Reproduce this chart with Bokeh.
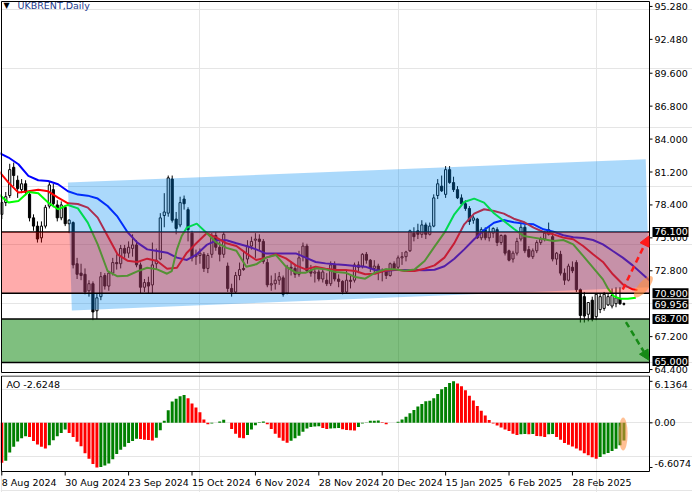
from bokeh.plotting import figure
from bokeh.models import Range1d, ColumnDataSource, Arrow, NormalHead
from bokeh.layouts import column
from bokeh.embed import file_html
from bokeh.resources import INLINE
from bokeh.core.properties import value

FONT = value("DejaVu Sans")
FS = value("9.5px")

# ---------------- data ----------------
date_ticks = [0, 16, 32, 48, 64, 80, 96, 112, 128, 144]
date_labels = ["8 Aug 2024", "30 Aug 2024", "23 Sep 2024", "15 Oct 2024", "6 Nov 2024",
               "28 Nov 2024", "20 Dec 2024", "15 Jan 2025", "6 Feb 2025", "28 Feb 2025"]

price_ticks = [95.28, 92.48, 89.6, 86.8, 84.0, 81.2, 78.4, 75.6, 72.8, 67.2, 64.4]
price_tick_labels = ["95.280", "92.480", "89.600", "86.800", "84.000", "81.200", "78.400",
                     "75.600", "72.800", "67.200", "64.400"]

opens = [77.6, 78.6, 79.2, 81.6, 80.5, 79.7, 80.2, 79.3, 77.3, 76.6, 75.6, 76.6, 78.3, 79.7, 78.4, 77.3,
         78.2, 76.8, 76.9, 73.4, 72.6, 72.5, 71.1, 71.7, 69.4, 70.6, 72.4, 71.5, 72.6, 73.5, 73.4, 74.7,
         74.3, 74.7, 75.0, 73.3, 71.4, 71.8, 71.6, 73.4, 73.8, 77.5, 77.7, 80.6, 77.2, 76.7, 78.9, 78.0,
         76.0, 74.0, 74.1, 74.2, 73.0, 74.2, 75.8, 74.8, 74.2, 73.2, 71.3, 71.0, 72.4, 73.0, 73.8, 74.9,
         75.4, 75.5, 75.3, 73.5, 71.6, 71.7, 72.0, 72.2, 70.9, 73.1, 73.0, 72.5, 74.0, 74.9, 72.8, 72.6,
         72.7, 72.1, 72.0, 71.7, 73.3, 72.1, 71.9, 71.0, 72.0, 72.0, 73.3, 73.2, 74.2, 73.7, 73.0, 73.2,
         72.7, 72.8, 72.4, 73.4, 73.1, 73.9, 74.0, 74.5, 76.0, 76.2, 75.9, 76.7, 75.9, 76.6, 79.2, 80.0,
         79.3, 81.4, 80.3, 79.7, 79.0, 78.5, 78.1, 77.1, 77.2, 75.6, 76.3, 75.6, 76.0, 76.3, 75.2, 75.8,
         74.5, 73.8, 74.3, 75.5, 76.5, 74.6, 74.0, 74.5, 75.2, 75.5, 75.9, 75.7, 73.8, 74.2, 72.6, 72.0,
         73.1, 73.5, 71.2, 70.6, 69.1, 70.3, 68.9, 69.5, 69.6, 69.9, 69.8, 70.0, 70.4, 70.0]
highs = [79.0, 79.5, 81.9, 82.0, 80.9, 80.6, 80.5, 79.5, 77.6, 77.0, 77.0, 78.4, 80.4, 80.2, 78.8, 78.7,
         78.4, 77.2, 77.0, 73.9, 73.4, 73.0, 72.0, 71.9, 70.9, 72.7, 72.6, 72.8, 73.9, 74.2, 75.0, 75.0,
         75.3, 75.9, 75.4, 73.5, 72.1, 72.3, 75.2, 74.7, 77.7, 79.4, 80.9, 80.9, 77.8, 79.1, 79.2, 78.2,
         76.2, 74.6, 74.7, 74.4, 74.3, 76.0, 76.1, 75.3, 76.1, 73.5, 71.7, 72.7, 73.5, 74.4, 75.4, 75.7,
         76.0, 75.9, 75.5, 73.8, 72.4, 72.6, 72.7, 72.4, 73.3, 73.6, 73.3, 74.5, 75.2, 75.1, 73.3, 73.1,
         72.9, 73.0, 72.6, 73.6, 73.6, 72.5, 72.0, 72.9, 72.4, 73.5, 73.6, 74.3, 74.4, 73.8, 73.7, 73.4,
         73.0, 73.0, 73.5, 73.6, 74.1, 74.4, 74.5, 76.3, 76.5, 76.8, 77.1, 76.9, 76.9, 79.3, 80.6, 80.9,
         81.7, 81.7, 80.8, 80.0, 79.3, 78.8, 78.3, 77.5, 77.3, 76.5, 76.5, 76.6, 76.5, 76.5, 75.9, 75.9,
         74.6, 74.5, 75.6, 76.9, 76.7, 74.9, 74.7, 75.4, 75.7, 76.2, 76.9, 76.0, 74.4, 74.5, 73.0, 73.4,
         73.6, 73.7, 71.3, 71.0, 70.1, 70.6, 70.9, 70.9, 71.0, 70.9, 71.3, 71.4, 71.4, 70.1]
lows = [77.2, 78.3, 79.0, 80.0, 79.0, 79.4, 79.2, 77.0, 76.2, 75.2, 75.2, 76.4, 78.1, 78.2, 77.0, 77.1,
        76.6, 76.0, 73.0, 72.1, 72.0, 70.8, 70.6, 68.6, 68.7, 70.3, 71.2, 71.1, 72.4, 72.9, 73.0, 73.9,
        73.9, 74.0, 73.1, 70.9, 71.0, 70.9, 70.9, 72.9, 73.7, 76.5, 77.4, 76.9, 75.9, 76.5, 78.0, 75.3,
        73.6, 73.3, 73.4, 72.7, 72.6, 73.9, 74.5, 73.6, 73.9, 71.0, 70.6, 70.9, 72.0, 72.8, 73.4, 74.6,
        73.9, 74.5, 73.4, 71.4, 71.1, 71.2, 71.6, 70.6, 70.8, 72.4, 72.2, 72.3, 73.6, 72.6, 72.3, 71.8,
        71.9, 71.8, 71.5, 71.5, 71.9, 71.4, 70.8, 70.9, 71.3, 71.8, 72.6, 73.0, 73.4, 72.7, 72.6, 72.0,
        71.9, 72.1, 72.3, 72.8, 72.9, 73.3, 73.6, 74.4, 75.3, 75.5, 75.6, 75.5, 75.8, 76.5, 78.9, 79.5,
        79.0, 80.2, 79.5, 78.9, 78.3, 77.9, 76.7, 76.8, 75.5, 75.4, 75.4, 75.3, 75.6, 74.9, 75.0, 74.1,
        73.6, 73.5, 74.1, 75.3, 74.3, 73.9, 73.8, 74.3, 75.0, 75.3, 75.8, 73.6, 73.3, 72.4, 71.6, 71.9,
        72.6, 71.0, 68.4, 68.4, 68.5, 68.5, 68.6, 69.2, 69.4, 69.8, 69.6, 69.7, 69.9, 69.85]
closes = [78.6, 79.1, 81.4, 80.9, 79.8, 80.2, 79.5, 77.3, 76.6, 75.5, 76.6, 78.2, 80.1, 78.5, 77.3, 78.4,
          76.8, 77.1, 73.3, 72.5, 72.4, 71.0, 71.7, 69.3, 70.5, 72.3, 71.5, 72.6, 73.5, 73.4, 74.7, 74.3,
          74.8, 75.0, 73.3, 71.4, 71.8, 71.5, 73.3, 73.7, 77.3, 77.8, 80.7, 77.1, 76.4, 78.6, 78.5, 76.3,
          73.9, 74.1, 74.3, 73.0, 74.1, 75.8, 74.8, 74.2, 75.9, 71.3, 71.0, 72.4, 72.9, 72.9, 74.9, 75.3,
          75.5, 75.3, 73.6, 71.6, 71.7, 72.0, 72.3, 70.8, 73.1, 73.0, 72.5, 73.9, 74.9, 72.8, 72.6, 72.7,
          72.1, 72.7, 71.7, 73.3, 72.1, 71.9, 71.0, 72.0, 71.9, 73.3, 73.1, 74.2, 73.7, 73.0, 73.2, 72.7,
          72.8, 72.4, 73.4, 73.0, 73.9, 74.0, 74.4, 76.2, 75.7, 75.9, 76.7, 75.9, 76.6, 79.0, 80.2, 79.6,
          81.4, 80.3, 79.7, 79.0, 78.5, 78.1, 77.0, 77.3, 75.6, 76.3, 75.6, 76.1, 76.4, 75.2, 75.8, 74.3,
          73.7, 74.3, 75.3, 76.5, 74.5, 74.0, 74.5, 75.2, 75.5, 76.0, 76.3, 73.8, 74.3, 72.6, 72.0, 73.2,
          72.8, 71.2, 69.0, 68.95, 70.1, 68.7, 70.8, 70.6, 70.8, 70.6, 70.7, 70.5, 70.0, 69.956]

# Alligator
jaw_idx = [-0.8, 1.7, 4.2, 6.7, 9.2, 11.7, 14.2, 16.7, 19.2, 21.7, 24.2, 26.7, 29.2, 31.7, 34.2, 36.7,
           39.2, 41.7, 44.2, 46.7, 49.2, 51.7, 54.2, 56.7, 59.2, 61.7, 64.2, 66.7, 69.2, 71.7, 74.2, 76.7,
           79.2, 81.7, 84.2, 86.7, 89.2, 91.7, 94.2, 96.7, 99.2, 101.7, 104.2, 106.7, 109.2, 111.7, 114.2,
           116.7, 119.2, 121.7, 124.2, 126.7, 129.2, 131.7, 134.2, 136.7, 139.2, 141.7, 144.2, 146.7,
           149.2, 151.7, 154.2, 156.7, 159.2, 161.7, 163.45]
jaw_val = [82.85, 82.43, 81.86, 80.87, 80.50, 80.44, 80.16, 79.56, 79.28, 79.19, 78.94, 78.31, 77.40,
           76.10, 75.19, 74.62, 74.48, 74.34, 73.92, 73.72, 74.20, 75.00, 75.39, 75.39, 75.14, 74.91,
           74.62, 74.26, 74.26, 74.26, 74.28, 73.92, 73.55, 73.43, 73.35, 73.29, 73.21, 73.15, 72.87,
           72.78, 72.87, 72.87, 72.87, 72.84, 72.89, 73.18, 73.83, 74.62, 75.48, 76.27, 76.89, 77.12,
           76.92, 76.81, 76.75, 76.33, 76.13, 75.82, 75.65, 75.59, 75.42, 75.05, 74.48, 73.92, 73.26,
           72.50, 71.97]
teeth_idx = [-0.8, 1.7, 4.2, 6.7, 9.2, 11.7, 14.2, 16.7, 19.2, 21.7, 24.2, 26.7, 29.2, 31.7, 34.2, 36.7,
             39.2, 41.7, 44.2, 46.7, 49.2, 51.7, 54.2, 56.7, 59.2, 61.7, 64.2, 66.7, 69.2, 71.7, 74.2,
             76.7, 79.2, 81.7, 84.2, 86.7, 89.2, 91.7, 94.2, 96.7, 99.2, 101.7, 104.2, 106.7, 109.2,
             111.7, 114.2, 116.7, 119.2, 121.7, 124.2, 126.7, 129.2, 131.7, 134.2, 136.7, 139.2, 141.7,
             144.2, 146.7, 149.2, 151.7, 154.2, 156.7, 159.2, 160.4]
teeth_val = [81.29, 80.30, 79.45, 79.56, 79.70, 79.56, 79.02, 78.54, 78.48, 78.17, 77.32, 75.76, 74.20,
             73.66, 73.55, 73.83, 73.63, 72.98, 73.06, 74.34, 75.19, 75.99, 75.62, 75.14, 74.91, 74.28,
             73.72, 73.92, 74.20, 73.86, 73.26, 72.92, 73.15, 72.98, 72.87, 72.87, 72.78, 72.50, 72.55,
             72.81, 72.92, 72.78, 72.78, 72.98, 73.26, 73.92, 75.15, 76.75, 77.66, 78.03, 77.89, 77.66,
             77.23, 76.95, 76.47, 76.10, 75.90, 75.62, 75.48, 74.91, 74.20, 73.55, 72.50, 71.65, 71.22,
             71.16]
lips_idx = [-0.8, 1.7, 4.2, 6.7, 9.2, 11.7, 14.2, 16.7, 19.2, 21.7, 24.2, 26.7, 29.2, 31.7, 34.2, 36.7,
            39.2, 41.7, 42.9, 44.2, 45.4, 46.7, 49.2, 51.7, 54.2, 56.7, 59.2, 61.7, 64.2, 66.7, 69.2,
            71.7, 74.2, 76.7, 79.2, 81.7, 84.2, 86.7, 89.2, 91.7, 94.2, 96.7, 99.2, 101.7, 104.2, 106.7,
            109.2, 111.7, 114.2, 116.7, 119.2, 121.7, 124.2, 126.7, 129.2, 131.7, 134.2, 136.7, 139.2,
            141.7, 144.2, 146.7, 149.2, 151.7, 153.0, 154.4, 156.0, 158.0, 160.0]
lips_val = [79.31, 78.60, 78.74, 79.50, 79.39, 78.60, 78.03, 78.40, 78.11, 76.89, 75.05, 72.78, 72.33,
            72.38, 72.75, 73.06, 72.92, 72.55, 72.78, 74.62, 75.76, 76.47, 76.81, 76.01, 75.19, 74.75,
            74.50, 73.15, 73.35, 73.92, 74.14, 73.15, 72.64, 72.64, 73.01, 72.92, 72.70, 72.64, 72.27,
            72.13, 72.64, 72.92, 72.92, 72.81, 72.92, 73.63, 74.85, 76.04, 77.60, 78.65, 78.94, 78.60,
            77.69, 77.04, 76.38, 75.76, 75.62, 75.48, 75.33, 75.42, 75.05, 74.06, 73.06, 72.07, 71.28,
            70.65, 70.43, 70.43, 70.51]

# Awesome Oscillator
ao_values = [-5.9, -5.6, -4.4, -3.55, -2.76, -2.3, -2.0, -2.1, -2.7, -3.2, -3.55, -3.8, -3.3, -2.56, -2.0,
             -1.5, -1.0, -1.5, -2.1, -2.8, -3.45, -4.5, -5.3, -6.1, -6.6074, -6.55, -6.3, -6.0, -5.4,
             -4.6, -4.0, -3.55, -3.0, -2.7, -2.35, -2.4, -2.5, -2.55, -2.6, -2.2, -1.1, 0.3, 1.87, 3.15,
             3.55, 3.94, 4.1, 3.65, 2.86, 2.27, 1.58, 0.5, -0.2, -0.1, 0.02, 0.2, 0.44, 0.0, -0.9, -1.6,
             -2.2, -2.3, -1.8, -1.0, -0.35, 0.1, 0.18, -0.2, -0.9, -1.6, -2.2, -2.66, -2.96, -2.66, -2.3,
             -1.9, -1.33, -0.84, -0.6, -0.55, -0.5, -0.75, -0.9, -0.85, -0.8, -0.75, -0.95, -1.05, -1.1,
             -1.12, -0.6, -0.1, 0.05, 0.3, 0.32, 0.34, 0.1, -0.2, 0.0, 0.02, 0.15, 0.5, 0.9, 1.4, 1.9,
             2.4, 2.8, 3.2, 3.25, 3.65, 4.25, 4.95, 5.3, 5.9, 6.1364, 5.8, 5.4, 4.8, 4.0, 3.3, 2.5, 1.8,
             1.1, 0.4, -0.1, -0.4, -0.7, -1.0, -1.2, -1.6, -1.8, -1.7, -1.65, -1.7, -1.65, -1.95, -2.0,
             -2.1, -1.7, -1.65, -2.1, -2.5, -3.0, -3.25, -3.5, -3.8, -4.1, -4.5, -4.8, -5.1, -5.3, -5.05,
             -4.65, -4.45, -4.15, -3.85, -3.3, -2.6248]
ao_ticks = [6.1364, 0.0, -6.6074]
ao_tick_labels = ["6.1364", "0.00", "-6.6074"]
ao_label_nudge = [3, 0, -4]       # px, keeps end labels inside the panel
ao_title = "AO -2.6248"
chart_title = "UKBRENT,Daily"

# drawings
upper_zone = (70.9, 76.1)
lower_zone = (65.0, 68.7)
levels_top = [76.1]
levels_other = [70.9, 68.7, 65.0]
channel_x = [16.68, 162.5, 163.35, 17.68]
channel_y = [80.30, 82.28, 71.40, 69.43]
up_arrow = (156.7, 71.21, 163.3, 75.76)
down_arrow = (157.5, 68.44, 163.3, 65.2)
price_boxes = [76.1, 70.9, 69.956, 68.7, 65.0]
box_nudge = [0, 0, 0, 0, 1.5]      # px upwards
focus_main = (161.9, 71.44)
focus_ao = (156.8, -1.66)

# ---------------- layout constants (pixels -> data units) ----------------
X0, X1 = -0.075, 163.45            # panel extent in bar index
PX_X = 648 / (X1 - X0)             # px per bar
Y_BOT, Y_TOP = 64.15, 95.7          # main panel price extent
PY = 371 / (Y_TOP - Y_BOT)          # px per price unit
A_BOT, A_TOP = -7.2, 7.0            # AO panel extent
PA = 96 / (A_TOP - A_BOT)

XR = Range1d(X0 - 1 / PX_X, X1 + 43 / PX_X)


def base_fig(h, yr):
    f = figure(width=692, height=h, x_range=XR, y_range=yr, output_backend="svg",
               toolbar_location=None, x_axis_location=None, y_axis_location=None,
               min_border_left=0, min_border_right=0, min_border_top=0, min_border_bottom=0)
    f.outline_line_color = None
    f.background_fill_color = "white"
    f.border_fill_color = "white"
    return f


# ---------------- main chart ----------------
main = base_fig(375, Range1d(Y_BOT - 3 / PY, Y_TOP + 1 / PY))

idx = list(range(len(closes)))
src = ColumnDataSource(dict(
    x=idx, o=opens, h=highs, l=lows, c=closes,
    top=[max(o, c) for o, c in zip(opens, closes)],
    bottom=[min(o, c) for o, c in zip(opens, closes)],
    fill=["white" if c >= o else "black" for o, c in zip(opens, closes)],
))
main.segment(x0="x", y0="l", x1="x", y1="h", source=src, line_color="black", line_width=1)
main.vbar(x="x", width=0.55, top="top", bottom="bottom", fill_color="fill",
          line_color="black", line_width=1, source=src)

main.line(jaw_idx, jaw_val, line_color="#0000FF", line_width=2)
main.line(teeth_idx, teeth_val, line_color="#FF0000", line_width=2)
main.line(lips_idx, lips_val, line_color="#00FF00", line_width=2)

main.segment(x0=[X0] * len(levels_top), x1=[X1] * len(levels_top), y0=levels_top, y1=levels_top,
             line_color="black", line_width=1.5)

# translucent overlays (tint the candles and lines beneath, as in the reference)
main.patch(channel_x, channel_y, fill_color=(0, 139, 242), fill_alpha=0.33, line_alpha=0)
main.quad(left=[X0], right=[X1], bottom=[upper_zone[0]], top=[upper_zone[1]],
          fill_color=(255, 0, 0), fill_alpha=0.33, line_alpha=0)
main.quad(left=[X0], right=[X1], bottom=[lower_zone[0]], top=[lower_zone[1]],
          fill_color=(0, 128, 0), fill_alpha=0.5, line_alpha=0)
main.segment(x0=[X0] * len(levels_other), x1=[X1] * len(levels_other), y0=levels_other, y1=levels_other,
             line_color="black", line_width=1.5)

main.ellipse(x=[focus_main[0]], y=[focus_main[1]], width=27, height=10, width_units="screen",
             height_units="screen", angle=0.87, fill_color="#FF8C3C", fill_alpha=0.6, line_alpha=0)

main.add_layout(Arrow(end=NormalHead(size=10, fill_color="#FF1A1A", line_color="#FF1A1A"),
                      x_start=up_arrow[0], y_start=up_arrow[1], x_end=up_arrow[2], y_end=up_arrow[3],
                      line_color="#FF1A1A", line_width=2.5, line_dash="6 4"))
main.add_layout(Arrow(end=NormalHead(size=10, fill_color="#168A16", line_color="#168A16"),
                      x_start=down_arrow[0], y_start=down_arrow[1], x_end=down_arrow[2], y_end=down_arrow[3],
                      line_color="#168A16", line_width=2.5, line_dash="6 4"))

# panel frame
main.quad(left=[X0], right=[X1], bottom=[Y_BOT], top=[Y_TOP], fill_alpha=0, line_color="black", line_width=1)

# right price scale
main.segment(x0=[X1] * len(price_ticks), x1=[X1 + 3 / PX_X] * len(price_ticks), y0=price_ticks,
             y1=price_ticks, line_color="black", line_width=1)
main.text(x=[X1 + 5 / PX_X] * len(price_ticks), y=price_ticks, text=price_tick_labels,
          text_font=FONT, text_font_size=FS, text_color="black", text_baseline="middle", text_align="left")

# highlighted price boxes
box_y = [p + n / PY for p, n in zip(price_boxes, box_nudge)]
main.rect(x=[X1 + 21 / PX_X] * len(price_boxes), y=box_y, width=36, height=10,
          width_units="screen", height_units="screen", fill_color="black", line_alpha=0)
main.text(x=[X1 + 5 / PX_X] * len(price_boxes), y=box_y, text=[f"{p:.3f}" for p in price_boxes],
          text_font=FONT, text_font_size=FS, text_color="white", text_baseline="middle", text_align="left")

# title
main.text(x=[X0 + 2 / PX_X], y=[Y_TOP - 4 / PY], text=["\u25BC"], text_font=FONT,
          text_font_size=value("8px"), text_color="black", text_baseline="middle", text_align="left")
main.text(x=[X0 + 16 / PX_X], y=[Y_TOP - 4 / PY], text=[chart_title], text_font=FONT,
          text_font_size=FS, text_color="#1c3a8c", text_baseline="middle", text_align="left")

# ---------------- AO panel ----------------
ao = base_fig(117, Range1d(A_BOT - 21 / PA, A_TOP))
ao_colors = ["#FF0000" if (i == 0 or v < ao_values[i - 1]) else "#008000" for i, v in enumerate(ao_values)]
ao.vbar(x=idx, width=0.75, top=ao_values, bottom=0, fill_color=ao_colors, line_alpha=0)
ao.ellipse(x=[focus_ao[0]], y=[focus_ao[1]], width=9, height=33, width_units="screen",
           height_units="screen", fill_color="#FF8C3C", fill_alpha=0.55, line_alpha=0)
ao.quad(left=[X0], right=[X1], bottom=[A_BOT], top=[A_TOP - 0.5 / PA], fill_alpha=0, line_color="black",
        line_width=1)

ao.segment(x0=[X1] * len(ao_ticks), x1=[X1 + 3 / PX_X] * len(ao_ticks), y0=ao_ticks, y1=ao_ticks,
           line_color="black", line_width=1)
ao.text(x=[X1 + 5 / PX_X] * len(ao_ticks), y=ao_ticks, text=ao_tick_labels, y_offset=ao_label_nudge,
        text_font=FONT, text_font_size=FS, text_color="black", text_baseline="middle", text_align="left")

ao.segment(x0=date_ticks, x1=date_ticks, y0=[A_BOT] * len(date_ticks), y1=[A_BOT - 4 / PA] * len(date_ticks),
           line_color="black", line_width=1)
ao.text(x=date_ticks, y=[A_BOT - 5 / PA] * len(date_ticks), text=date_labels, text_font=FONT,
        text_font_size=FS, text_color="black", text_baseline="top", text_align="left")

ao.text(x=[X0 + 5 / PX_X], y=[A_TOP - 3 / PA], text=[ao_title], text_font=FONT, text_font_size=FS,
        text_color="black", text_baseline="top", text_align="left")

layout = column(main, ao, spacing=0)
open("out.html", "w").write(file_html(layout, INLINE))
